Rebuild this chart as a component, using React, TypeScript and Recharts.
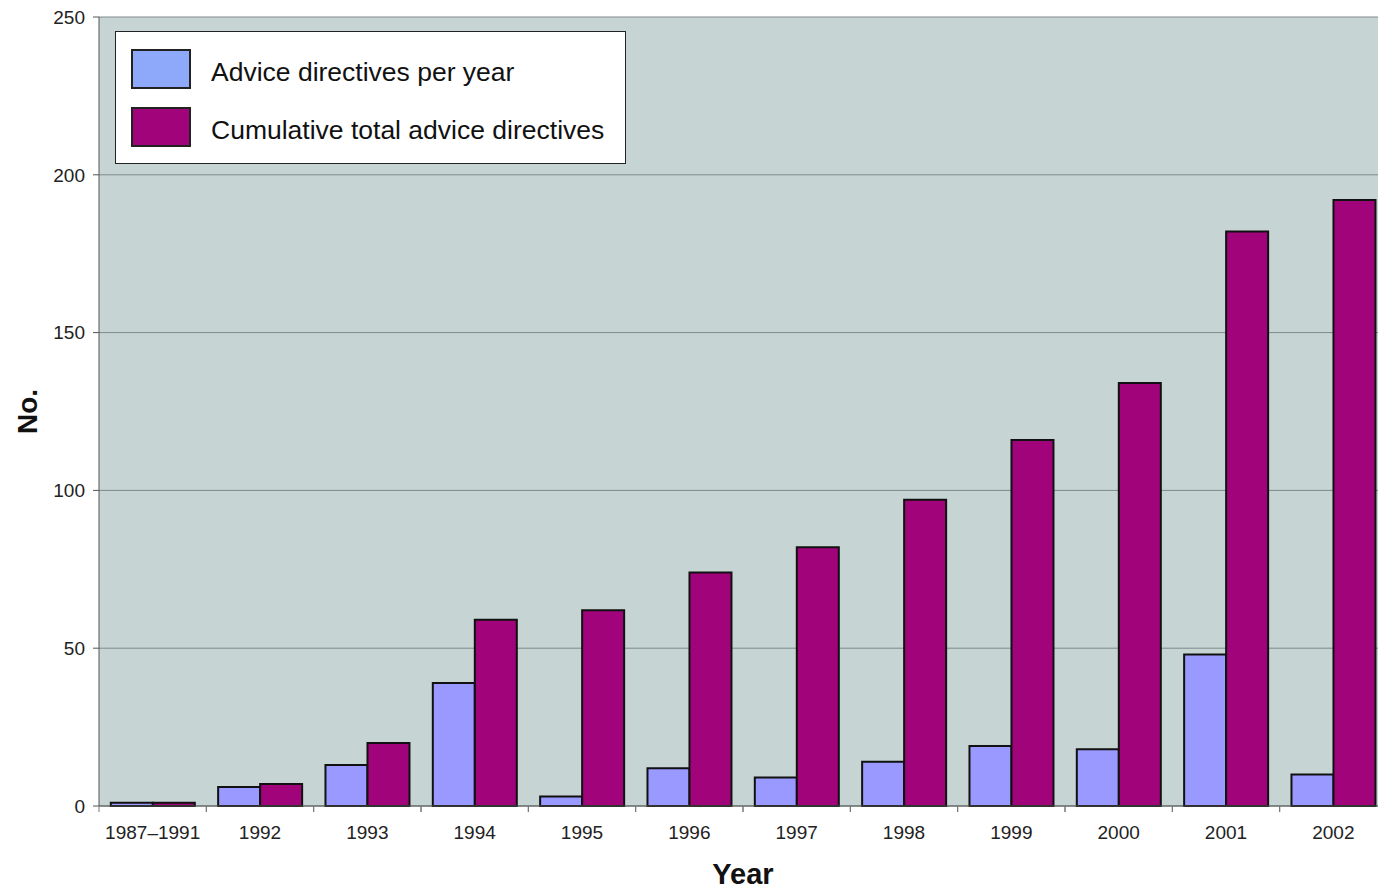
import React from 'react';
import {
  BarChart,
  Bar,
  XAxis,
  YAxis,
  CartesianGrid,
  Legend,
} from 'recharts';

const years = ['1987–1991', '1992', '1993', '1994', '1995', '1996', '1997', '1998', '1999', '2000', '2001', '2002'];
const perYear = [1, 6, 13, 39, 3, 12, 9, 14, 19, 18, 48, 10];
const cumulative = [1, 7, 20, 59, 62, 74, 82, 97, 116, 134, 182, 192];
const yTicks = [0, 50, 100, 150, 200, 250];

const data = years.map((year, i) => ({
  year,
  perYear: perYear[i],
  cumulative: cumulative[i],
}));

const FONT = 'Arial, "Liberation Sans", sans-serif';
const BLUE = '#9999ff';
const MAGENTA = '#a0037a';
const TICK_SIZE = 6;
const TICK_MARGIN = 14;

const legendItems = [
  { label: 'Advice directives per year', color: '#8ea8fa' },
  { label: 'Cumulative total advice directives', color: MAGENTA },
];

const renderLegend = () => (
  <div
    style={{
      boxSizing: 'border-box',
      width: 511,
      height: 133,
      background: '#fff',
      border: '1.5px solid #222',
      padding: '8px 0 0 15px',
      fontFamily: FONT,
    }}
  >
    {legendItems.map((item) => (
      <div key={item.label} style={{ display: 'flex', alignItems: 'center', height: 58 }}>
        <div
          style={{
            boxSizing: 'border-box',
            width: 60,
            height: 40,
            background: item.color,
            border: '2px solid #222',
          }}
        />
        <span style={{ marginLeft: 20, fontSize: 26.5, color: '#111', position: 'relative', top: 3 }}>
          {item.label}
        </span>
      </div>
    ))}
  </div>
);

// Excel-style category ticks: the little marks sit between categories, not under them
const CategoryTick = (props: any) => {
  const { x, y, payload } = props;
  const half = payload.offset || 0;
  const axisY = y - TICK_SIZE - TICK_MARGIN;
  return (
    <g>
      <line x1={x - half} x2={x - half} y1={axisY} y2={axisY + TICK_SIZE} stroke="#777" />
      <line x1={x + half} x2={x + half} y1={axisY} y2={axisY + TICK_SIZE} stroke="#777" />
      <text
        x={x}
        y={y}
        dy="0.71em"
        textAnchor="middle"
        style={{ fontFamily: FONT, fontSize: 19, fill: '#222' }}
      >
        {payload.value}
      </text>
    </g>
  );
};

const YLabel = (props: any) => {
  const { viewBox } = props;
  const x = viewBox.x + 27;
  const y = viewBox.y + viewBox.height / 2;
  return (
    <text
      x={x}
      y={y}
      transform={`rotate(-90, ${x}, ${y})`}
      textAnchor="middle"
      dominantBaseline="central"
      style={{ fontFamily: FONT, fontSize: 28, fontWeight: 'bold', fill: '#111' }}
    >
      No.
    </text>
  );
};

export default function App() {
  return (
    <div
      style={{
        position: 'fixed',
        top: 0,
        left: 0,
        width: 1378,
        height: 890,
        overflow: 'hidden',
        background: '#fff',
      }}
    >
      <BarChart
        width={1390}
        height={890}
        data={data}
        margin={{ top: 17, right: 3, left: 0, bottom: 0 }}
        barCategoryGap="11%"
        barGap={0}
      >
        <CartesianGrid vertical={false} stroke="#7e8a8a" fill="#c6d4d4" fillOpacity={1} />
        <XAxis
          dataKey="year"
          height={84}
          tickLine={false}
          tickSize={TICK_SIZE}
          tickMargin={TICK_MARGIN}
          interval={0}
          axisLine={{ stroke: '#555' }}
          tick={<CategoryTick />}
          label={{
            value: 'Year',
            position: 'insideBottom',
            offset: 6,
            style: { fontFamily: FONT, fontSize: 29, fontWeight: 'bold', fill: '#111' },
          }}
        />
        <YAxis
          width={99}
          domain={[0, 250]}
          ticks={yTicks}
          interval={0}
          tickSize={6}
          tickMargin={8}
          axisLine={{ stroke: '#555' }}
          tickLine={{ stroke: '#555' }}
          tick={{ fontFamily: FONT, fontSize: 19, fill: '#222' }}
          label={<YLabel />}
        />
        <Legend
          layout="vertical"
          align="center"
          verticalAlign="middle"
          content={renderLegend}
          wrapperStyle={{ top: 31, left: 115, width: 511, height: 133 }}
        />
        <Bar
          dataKey="perYear"
          name="Advice directives per year"
          fill={BLUE}
          stroke="#111"
          strokeWidth={2}
          isAnimationActive={false}
        />
        <Bar
          dataKey="cumulative"
          name="Cumulative total advice directives"
          fill={MAGENTA}
          stroke="#111"
          strokeWidth={2}
          isAnimationActive={false}
        />
      </BarChart>
    </div>
  );
}
